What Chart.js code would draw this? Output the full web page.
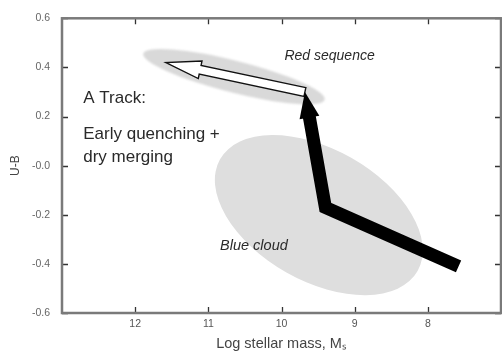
<!DOCTYPE html>
<html>
<head>
<meta charset="utf-8">
<title>A Track</title>
<script src="https://cdn.jsdelivr.net/npm/chart.js@4.4.1/dist/chart.umd.min.js"></script>
<style>
  html, body { margin: 0; padding: 0; background: #fff; }
  #wrap { width: 502px; height: 359px; }
</style>
</head>
<body>
<div id="wrap"><canvas id="cmd" width="502" height="359"></canvas></div>
<script>
// axis ticks
const xTickValues = [12, 11, 10, 9, 8];
const yTickValues = [-0.6, -0.4, -0.2, 0, 0.2, 0.4, 0.6];
const yTickLabels = ['-0.6', '-0.4', '-0.2', '-0.0', '0.2', '0.4', '0.6'];

// A track: blue cloud -> early quenching -> red sequence
const trackMass = [7.58, 9.40, 9.68];
const trackColour = [-0.41, -0.17, 0.30];

// dry merging along the red sequence
const mergeMass = [9.68, 11.58];
const mergeColour = [0.30, 0.42];

// the two populations, each given by the ends of its long axis
const regionNames = ['Red sequence', 'Blue cloud'];
const regionMassEnds = [[11.89, 9.41], [10.84, 8.14]];
const regionColourEnds = [[0.456, 0.269], [0.026, -0.429]];
const regionAspect = [0.17, 0.58];

const regionFill = ['#d9d9d9', '#dedede'];
const regionBlur = [1, 0.6];

const HEAD_LEN = 26;
const HEAD_HALF = 10;

const FONT = '"Liberation Sans", Arial, sans-serif';
Chart.defaults.font.family = FONT;

const notes = [
  { text: 'A Track:', x: 12.71, y: 0.275, font: '17px ' + FONT },
  { text: 'Early quenching +', x: 12.71, y: 0.126, font: '17px ' + FONT },
  { text: 'dry merging', x: 12.71, y: 0.034, font: '17px ' + FONT },
  { text: regionNames[0], x: 9.96, y: 0.447, font: 'italic 14px ' + FONT },
  { text: regionNames[1], x: 10.84, y: -0.326, font: 'italic 14.5px ' + FONT }
];

function toPx(chart, x, y) {
  return [chart.scales.x.getPixelForValue(x), chart.scales.y.getPixelForValue(y)];
}

// grey population ellipses and the hollow merging arrow
const backdrop = {
  id: 'backdrop',
  beforeDatasetsDraw(chart) {
    const ctx = chart.ctx;
    const a = chart.chartArea;
    ctx.save();
    ctx.beginPath();
    ctx.rect(a.left, a.top, a.right - a.left, a.bottom - a.top);
    ctx.clip();

    regionNames.forEach((name, i) => {
      const [x1, y1] = toPx(chart, regionMassEnds[i][0], regionColourEnds[i][0]);
      const [x2, y2] = toPx(chart, regionMassEnds[i][1], regionColourEnds[i][1]);
      const r = Math.hypot(x2 - x1, y2 - y1) / 2;
      ctx.filter = 'blur(' + regionBlur[i] + 'px)';
      ctx.fillStyle = regionFill[i];
      ctx.beginPath();
      ctx.ellipse((x1 + x2) / 2, (y1 + y2) / 2, r, r * regionAspect[i],
        Math.atan2(y2 - y1, x2 - x1), 0, Math.PI * 2);
      ctx.fill();
    });
    ctx.filter = 'none';

    const meta = chart.getDatasetMeta(1);
    const s = meta.data[0], e = meta.data[1];
    const len = Math.hypot(e.x - s.x, e.y - s.y);
    const ux = (e.x - s.x) / len, uy = (e.y - s.y) / len;
    const nx = -uy, ny = ux;
    const head = 35, hw = 9, sw = 4.5;
    const bx = e.x - ux * head, by = e.y - uy * head;
    ctx.beginPath();
    ctx.moveTo(s.x + nx * sw, s.y + ny * sw);
    ctx.lineTo(bx + nx * sw, by + ny * sw);
    ctx.lineTo(bx + nx * hw, by + ny * hw);
    ctx.lineTo(e.x, e.y);
    ctx.lineTo(bx - nx * hw, by - ny * hw);
    ctx.lineTo(bx - nx * sw, by - ny * sw);
    ctx.lineTo(s.x - nx * sw, s.y - ny * sw);
    ctx.closePath();
    ctx.fillStyle = '#fff';
    ctx.fill();
    ctx.strokeStyle = '#111';
    ctx.lineWidth = 1.4;
    ctx.lineJoin = 'miter';
    ctx.stroke();
    ctx.restore();
  }
};

// stop the thick track short of its end and put a solid head there
const trackHead = {
  id: 'trackHead',
  beforeDatasetDraw(chart, args) {
    if (args.index !== 0) return;
    const pts = args.meta.data;
    const tip = pts[pts.length - 1], prev = pts[pts.length - 2];
    const dx = tip.x - prev.x, dy = tip.y - prev.y, len = Math.hypot(dx, dy);
    this._tip = { x: tip.x, y: tip.y, ux: dx / len, uy: dy / len };
    tip.x -= this._tip.ux * (HEAD_LEN - 2);
    tip.y -= this._tip.uy * (HEAD_LEN - 2);
  },
  afterDatasetDraw(chart, args) {
    if (args.index !== 0) return;
    const t = this._tip;
    const pts = args.meta.data;
    pts[pts.length - 1].x = t.x;
    pts[pts.length - 1].y = t.y;
    const ctx = chart.ctx;
    const bx = t.x - t.ux * HEAD_LEN, by = t.y - t.uy * HEAD_LEN;
    ctx.save();
    ctx.fillStyle = '#000';
    ctx.beginPath();
    ctx.moveTo(t.x, t.y);
    ctx.lineTo(bx - t.uy * HEAD_HALF, by + t.ux * HEAD_HALF);
    ctx.lineTo(bx + t.uy * HEAD_HALF, by - t.ux * HEAD_HALF);
    ctx.closePath();
    ctx.fill();
    ctx.restore();
  }
};

// text notes, frame and inward tick marks
const frame = {
  id: 'frame',
  afterDraw(chart) {
    const ctx = chart.ctx;
    const a = chart.chartArea;
    const { x, y } = chart.scales;
    ctx.save();
    ctx.fillStyle = '#2a2a2a';
    ctx.textAlign = 'left';
    ctx.textBaseline = 'middle';
    notes.forEach(n => {
      const [px, py] = toPx(chart, n.x, n.y);
      ctx.font = n.font;
      ctx.fillText(n.text, px, py);
    });

    ctx.strokeStyle = '#333';
    ctx.lineWidth = 1.3;
    ctx.beginPath();
    x.ticks.forEach(t => {
      const p = Math.round(x.getPixelForValue(t.value)) + 0.5;
      ctx.moveTo(p, a.bottom); ctx.lineTo(p, a.bottom - 6);
      ctx.moveTo(p, a.top); ctx.lineTo(p, a.top + 6);
    });
    y.ticks.forEach(t => {
      const p = Math.round(y.getPixelForValue(t.value)) + 0.5;
      ctx.moveTo(a.left, p); ctx.lineTo(a.left + 6, p);
      ctx.moveTo(a.right, p); ctx.lineTo(a.right - 6, p);
    });
    ctx.stroke();

    ctx.strokeStyle = '#7a7a7a';
    ctx.lineWidth = 2.5;
    ctx.strokeRect(a.left, a.top, a.right - a.left, a.bottom - a.top);
    ctx.restore();
  }
};

new Chart(document.getElementById('cmd'), {
  type: 'scatter',
  data: {
    datasets: [{
      label: 'A track',
      data: trackMass.map((m, i) => ({ x: m, y: trackColour[i] })),
      showLine: true,
      borderColor: '#000',
      borderWidth: 13,
      borderJoinStyle: 'miter',
      borderCapStyle: 'butt',
      pointRadius: 0
    }, {
      label: 'Dry merging',
      data: mergeMass.map((m, i) => ({ x: m, y: mergeColour[i] })),
      showLine: false,
      pointRadius: 0
    }]
  },
  options: {
    responsive: false,
    animation: false,
    events: [],
    layout: { padding: { top: 12, right: 1, left: 0, bottom: 0 } },
    plugins: { legend: { display: false }, tooltip: { enabled: false } },
    scales: {
      x: {
        type: 'linear',
        min: 7,
        max: 13,
        reverse: true,
        grid: { display: false, drawTicks: false },
        border: { display: false },
        afterBuildTicks: s => { s.ticks = xTickValues.map(v => ({ value: v })); },
        afterFit: s => { s.height = 46; },
        ticks: { color: '#555', font: { size: 10.5 }, padding: 5 },
        title: {
          display: true,
          text: 'Log stellar mass, Mₛ',
          color: '#444',
          font: { size: 14.5 },
          padding: { top: 0, bottom: 6 }
        }
      },
      y: {
        min: -0.6,
        max: 0.6,
        grid: { display: false, drawTicks: false },
        border: { display: false },
        afterBuildTicks: s => { s.ticks = yTickValues.map(v => ({ value: v })); },
        afterFit: s => { s.width = 62; },
        ticks: {
          color: '#666',
          font: { size: 10.5 },
          padding: 12,
          callback: (v, i) => yTickLabels[i]
        },
        title: {
          display: true,
          text: 'U-B',
          color: '#444',
          font: { size: 12 },
          padding: { top: 8, bottom: 0 }
        }
      }
    }
  },
  plugins: [backdrop, trackHead, frame]
});
</script>
</body>
</html>
